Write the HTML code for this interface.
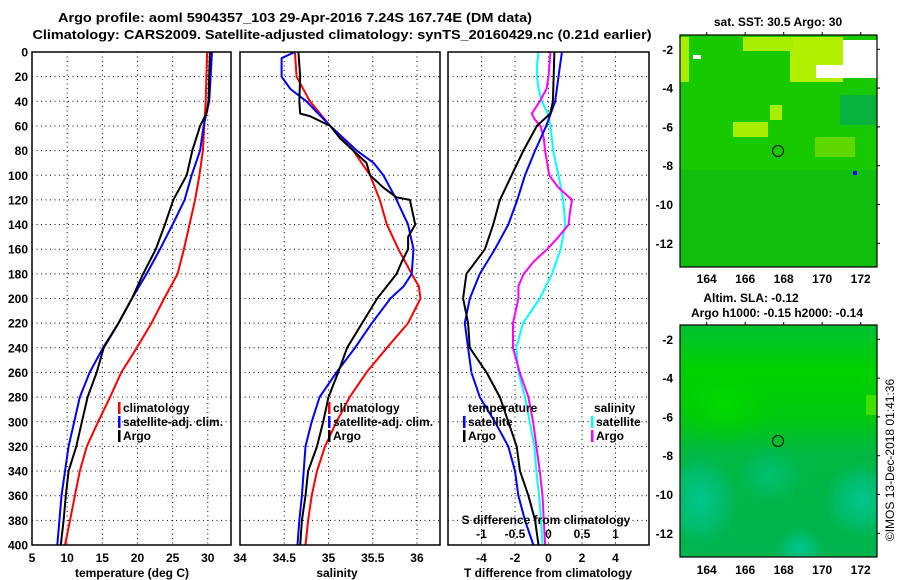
<!DOCTYPE html>
<html><head><meta charset="utf-8"><style>
html,body{margin:0;padding:0;background:#fff;}
svg{display:block;font-family:"Liberation Sans",Arial,sans-serif;font-weight:bold;}
</style></head><body>
<svg id="fig" width="900" height="580" viewBox="0 0 900 580">
<text x="295" y="22" font-size="13" text-anchor="middle" textLength="474" lengthAdjust="spacingAndGlyphs">Argo profile: aoml 5904357_103 29-Apr-2016 7.24S 167.74E (DM data)</text>
<text x="342" y="39" font-size="13" text-anchor="middle" textLength="619" lengthAdjust="spacingAndGlyphs">Climatology: CARS2009. Satellite-adjusted climatology: synTS_20160429.nc (0.21d earlier)</text>
<g id="maps">
 <defs>
  <clipPath id="clipTop"><rect x="680" y="35" width="197" height="232"/></clipPath>
  <clipPath id="clipBot"><rect x="680" y="325" width="197" height="232"/></clipPath>
  <radialGradient id="gTop" cx="0.5" cy="0.5" r="0.5"><stop offset="0" stop-color="#00dc00"/><stop offset="1" stop-color="#00d000" stop-opacity="0"/></radialGradient>
  <radialGradient id="teal1" cx="0.5" cy="0.5" r="0.5"><stop offset="0" stop-color="#00c890"/><stop offset="0.6" stop-color="#00c080" stop-opacity="0.6"/><stop offset="1" stop-color="#00b860" stop-opacity="0"/></radialGradient>
  <linearGradient id="slaV" x1="0" y1="0" x2="0" y2="1"><stop offset="0" stop-color="#00c030"/><stop offset="0.2" stop-color="#00d200"/><stop offset="0.4" stop-color="#00c810"/><stop offset="0.55" stop-color="#00b840"/><stop offset="1" stop-color="#00b450"/></linearGradient>
 </defs>
 <g clip-path="url(#clipTop)">
 <rect x="680" y="35" width="197" height="232" fill="#18c800"/>
 <rect x="680" y="170" width="197" height="97" fill="#10bc10" opacity="0.8"/>
 <rect x="790" y="37" width="53" height="45" fill="#b0f000"/>
 <rect x="743" y="37" width="50" height="14" fill="#a8ee00"/>
 <rect x="680" y="37" width="9" height="45" fill="#a8ee00"/>
 <rect x="733" y="122" width="35" height="15" fill="#a8ee00"/>
 <rect x="770" y="105" width="12" height="15" fill="#a8ee00"/>
 <rect x="815" y="137" width="40" height="20" fill="#60d800"/>
 <rect x="840" y="95" width="37" height="30" fill="#00aa55" opacity="0.7"/>
 <rect x="816" y="65" width="45" height="13" fill="#fff"/>
 <rect x="843" y="40" width="34" height="38" fill="#fff"/>
 <rect x="693" y="55" width="8" height="4" fill="#fff"/>
 <rect x="853" y="171" width="4" height="4" fill="#0000ff"/>
 </g>
 <g clip-path="url(#clipBot)">
 <rect x="680" y="325" width="197" height="232" fill="url(#slaV)"/>
 <ellipse cx="725" cy="405" rx="55" ry="40" fill="url(#gTop)"/>
 <ellipse cx="700" cy="500" rx="40" ry="50" fill="url(#teal1)"/>
 <ellipse cx="862" cy="500" rx="40" ry="40" fill="url(#teal1)"/>
 <ellipse cx="800" cy="548" rx="25" ry="20" fill="url(#teal1)"/>
 <ellipse cx="770" cy="475" rx="35" ry="30" fill="url(#teal1)" opacity="0.6"/>
 <rect x="866" y="395" width="11" height="20" fill="#40e000"/>
 </g>
 <rect x="680" y="35" width="197" height="232" fill="none" stroke="#000" stroke-width="1.2"/>
 <rect x="680" y="325" width="197" height="232" fill="none" stroke="#000" stroke-width="1.2"/>
 <circle cx="778" cy="151" r="5.5" fill="none" stroke="#000"/>
 <circle cx="778" cy="441" r="5.5" fill="none" stroke="#000"/>
 <text x="778" y="26" font-size="12" text-anchor="middle">sat. SST: 30.5 Argo: 30</text>
 <text x="751" y="302" font-size="12" text-anchor="middle">Altim. SLA: -0.12</text>
 <text x="777" y="317" font-size="12" text-anchor="middle">Argo h1000: -0.15 h2000: -0.14</text>
 <text transform="translate(894,460) rotate(-90)" font-size="12" font-weight="normal" text-anchor="middle">©IMOS 13-Dec-2018 01:41:36</text>
</g>
</svg>
<script>
// ---------- data ----------
const tempClimDepth=[0,20,40,60,80,100,120,140,160,180,200,220,240,260,280,300,320,340,360,380,400];
const tempClim=[29.9,29.8,29.7,29.5,29.3,28.8,28.2,27.4,26.6,25.7,23.8,22.0,19.9,17.7,16.1,14.4,12.8,11.8,11.1,10.4,9.7];
const tempSatDepth=[0,20,40,60,80,100,120,140,160,180,200,220,240,260,280,300,320,340,360,380,400];
const tempSat=[30.6,30.4,30.2,29.4,28.9,27.7,26.7,25.0,23.2,21.3,19.2,17.3,15.1,13.2,11.8,11.0,10.2,9.7,9.2,8.9,8.6];
const tempArgoDepth=[0,20,40,50,60,80,100,120,140,160,180,200,220,240,260,280,300,320,340,360,380,400];
const tempArgo=[30.3,30.2,30.1,29.8,28.9,27.8,27.0,25.1,23.9,22.6,20.8,19.2,17.3,15.2,14.2,12.9,12.1,11.3,10.2,9.8,9.5,9.1];
const salClimDepth=[0,20,40,60,80,100,120,140,160,180,190,200,220,240,260,280,300,320,340,360,380,400];
const salClim=[34.62,34.64,34.79,35.02,35.28,35.47,35.58,35.66,35.79,35.94,36.02,36.04,35.90,35.66,35.43,35.24,35.09,34.96,34.87,34.81,34.77,34.74];
const salSatDepth=[0,5,20,30,40,60,80,90,100,120,140,160,180,190,200,220,240,260,280,300,320,340,360,380,400];
const salSat=[34.62,34.47,34.47,34.57,34.75,35.02,35.32,35.51,35.62,35.77,35.90,35.96,35.94,35.85,35.70,35.49,35.30,35.09,34.90,34.81,34.74,34.72,34.70,34.67,34.65];
const salArgoDepth=[0,20,40,50,52,60,70,80,90,100,110,118,120,140,150,160,170,180,200,220,240,260,280,300,320,340,360,380,400];
const salArgo=[34.66,34.68,34.67,34.68,34.79,35.02,35.13,35.28,35.43,35.47,35.62,35.77,35.92,35.98,35.90,35.90,35.83,35.77,35.55,35.38,35.21,35.11,35.00,34.94,34.87,34.77,34.74,34.70,34.68];
const tDiffSatDepth=[0,20,40,60,80,100,120,140,160,180,200,220,240,260,280,300,320,340,360,380,400];
const tDiffSat=[0.8,0.6,0.4,-0.14,-0.8,-1.4,-1.86,-2.4,-3.2,-4.1,-4.7,-5.0,-4.8,-4.6,-4.1,-3.2,-2.4,-2.0,-1.8,-1.4,-0.9];
const tDiffArgoDepth=[0,40,50,60,80,100,120,140,160,180,200,220,240,260,280,300,320,340,360,380,400];
const tDiffArgo=[0.35,0.26,0.1,-0.7,-1.5,-2.2,-2.9,-3.3,-3.8,-4.9,-5.1,-4.8,-4.7,-3.7,-2.9,-2.4,-1.9,-1.7,-1.2,-0.8,-0.6];
const sDiffSatDepth=[0,10,20,30,40,50,60,80,100,120,140,160,180,200,220,240,260,280,300,320,340,360,380,400];
const sDiffSat=[-0.15,-0.17,-0.17,-0.15,-0.1,-0.01,0.03,0.07,0.15,0.22,0.25,0.18,0.05,-0.13,-0.38,-0.48,-0.45,-0.35,-0.28,-0.21,-0.18,-0.14,-0.11,-0.09];
const sDiffArgoDepth=[0,20,30,40,50,55,60,70,80,90,100,110,120,130,140,150,160,170,180,190,200,220,240,260,280,300,320,340,360,380,400];
const sDiffArgo=[0.03,0,-0.03,-0.13,-0.25,-0.2,-0.12,-0.07,-0.05,-0.02,0.01,0.15,0.35,0.32,0.3,0.15,-0.02,-0.22,-0.37,-0.45,-0.45,-0.53,-0.53,-0.43,-0.3,-0.23,-0.18,-0.13,-0.09,-0.07,-0.05];
const depthTicks=[0,20,40,60,80,100,120,140,160,180,200,220,240,260,280,300,320,340,360,380,400];
const tempTicks=[5,10,15,20,25,30];
const salTicks=[34,34.5,35,35.5,36];
const tDiffTicks=[-4,-2,0,2,4];
const sDiffTicks=[-1,-0.5,0,0.5,1];
const lonTicks=[164,166,168,170,172];
const latTicks=[-2,-4,-6,-8,-10,-12];

// ---------- helpers ----------
const NS="http://www.w3.org/2000/svg";
const svg=document.getElementById('fig');
function mk(tag,attrs,parent){const e=document.createElementNS(NS,tag);for(const k in attrs)e.setAttribute(k,attrs[k]);(parent||svg).appendChild(e);return e;}
const Y0=52,Y1=545;
function yD(d){return Y0+(Y1-Y0)*d/400;}
function lin(a,b,pa,pb){return v=>pa+(v-a)*(pb-pa)/(b-a);}
const xT=lin(5,33.3,32,231);
const xS=lin(34,36.26,240,440);
const xTD=lin(-6,6,448,649);
const xSD=lin(-1.5,1.5,448,649);

function panel(name,x0,x1,ticks,xf,fmt,gridTicks){
  const g=mk('g',{});
  
  
  depthTicks.forEach(d=>{
    if(d>0&&d<400){const l=mk('line',{x1:x0,x2:x1,y1:yD(d),y2:yD(d),stroke:'#000','stroke-width':1,'stroke-dasharray':'1,3.5'},g);
    
    }
  });
  gridTicks.forEach(v=>{const x=xf(v);if(x>x0+1&&x<x1-1){const l=mk('line',{x1:x,x2:x,y1:Y0,y2:Y1,stroke:'#000','stroke-width':1,'stroke-dasharray':'1,3.5'},g);
    
    }});
  if(ticks){ticks.forEach(v=>{const t=mk('text',{x:xf(v),y:562,'font-size':12,'text-anchor':'middle'},g);t.textContent=fmt(v);
    
    });}
  return g;
}
function frame(x0,x1,name){const r=mk('rect',{x:x0,y:Y0,width:x1-x0,height:Y1-Y0,fill:'none',stroke:'#000','stroke-width':1.5});
  
  }
function series(depths,vals,xf,color,name){
  const pts=depths.map((d,i)=>xf(vals[i]).toFixed(1)+','+yD(d).toFixed(1)).join(' ');
  const p=mk('polyline',{points:pts,fill:'none',stroke:color,'stroke-width':2,'stroke-linejoin':'round'});
  
  
}
function legendEntry(x,y,color,label,name){
  const b=mk('rect',{x:x,y:y-10,width:2.5,height:12,fill:color});
  
  
  const t=mk('text',{x:x+5,y:y,'font-size':12});t.textContent=label;
  
  
}
function label(x,y,txt,name,anchor){const t=mk('text',{x:x,y:y,'font-size':12,'text-anchor':anchor||'middle'});t.textContent=txt;
  
  }

depthTicks.forEach(d=>{const t=mk('text',{x:28,y:yD(d)+4.5,'font-size':12,'text-anchor':'end'});t.textContent=d;
  
  });

panel('temperature-panel',32,231,tempTicks,xT,v=>v,[10,15,20,25,30]);
series(tempClimDepth,tempClim,xT,'#ff0000','temp-climatology-line');
series(tempSatDepth,tempSat,xT,'#0000ff','temp-satellite-line');
series(tempArgoDepth,tempArgo,xT,'#000000','temp-argo-line');
frame(32,231,'temperature-panel-frame');
legendEntry(118,412,'#ff0000','climatology','temp-legend-climatology');
legendEntry(118,426,'#0000ff','satellite-adj. clim.','temp-legend-satellite');
legendEntry(118,440,'#000000','Argo','temp-legend-argo');
label(132,577,'temperature (deg C)','temperature-axis-title');

panel('salinity-panel',240,440,salTicks,xS,v=>v,[34.5,35,35.5,36]);
series(salClimDepth,salClim,xS,'#ff0000','sal-climatology-line');
series(salSatDepth,salSat,xS,'#0000ff','sal-satellite-line');
series(salArgoDepth,salArgo,xS,'#000000','sal-argo-line');
frame(240,440,'salinity-panel-frame');
legendEntry(328,412,'#ff0000','climatology','sal-legend-climatology');
legendEntry(328,426,'#0000ff','satellite-adj. clim.','sal-legend-satellite');
legendEntry(328,440,'#000000','Argo','sal-legend-argo');
label(337,577,'salinity','salinity-axis-title');

panel('difference-panel',448,649,tDiffTicks,xTD,v=>v,[-4,-2,0,2,4]);
series(sDiffSatDepth,sDiffSat,xSD,'#00ffff','sdiff-satellite-line');
series(sDiffArgoDepth,sDiffArgo,xSD,'#ff00ff','sdiff-argo-line');
series(tDiffSatDepth,tDiffSat,xTD,'#0000ff','tdiff-satellite-line');
series(tDiffArgoDepth,tDiffArgo,xTD,'#000000','tdiff-argo-line');
frame(448,649,'difference-panel-frame');
label(468,412,'temperature','diff-legend-temperature-heading','start');
legendEntry(463,426,'#0000ff','satellite','tdiff-legend-satellite');
legendEntry(463,440,'#000000','Argo','tdiff-legend-argo');
label(594,412,'salinity','diff-legend-salinity-heading','start');
legendEntry(591,426,'#00ffff','satellite','sdiff-legend-satellite');
legendEntry(591,440,'#ff00ff','Argo','sdiff-legend-argo');
sDiffTicks.forEach(v=>{const t=mk('text',{x:xSD(v),y:538,'font-size':12,'text-anchor':'middle'});t.textContent=v;
  
  });
label(546,524,'S difference from climatology','s-diff-axis-title');
label(548,577,'T difference from climatology','t-diff-axis-title');

const lonX=lin(164,172,706.7,860.7);
const latTopY=lin(-2,-12,49.3,243.3);
const latBotY=lin(-2,-12,339.3,533.3);
[[latTopY,35,267,279],[latBotY,325,557,570]].forEach(([ly,top,bot,lab],mi)=>{
  lonTicks.forEach(v=>{const x=lonX(v);
    const tk=mk('line',{x1:x,x2:x,y1:top,y2:top-3,stroke:'#000'});
    
    
    const t=mk('text',{x:x,y:lab+4,'font-size':12,'text-anchor':'middle'});t.textContent=v;
    
    });
  latTicks.forEach(v=>{const y=ly(v);
    const tk=mk('line',{x1:877,x2:880,y1:y,y2:y,stroke:'#000'});
    
    
    const t=mk('text',{x:673,y:y+4.5,'font-size':12,'text-anchor':'end'});t.textContent=v;
    
    });
});
</script>
</body></html>
